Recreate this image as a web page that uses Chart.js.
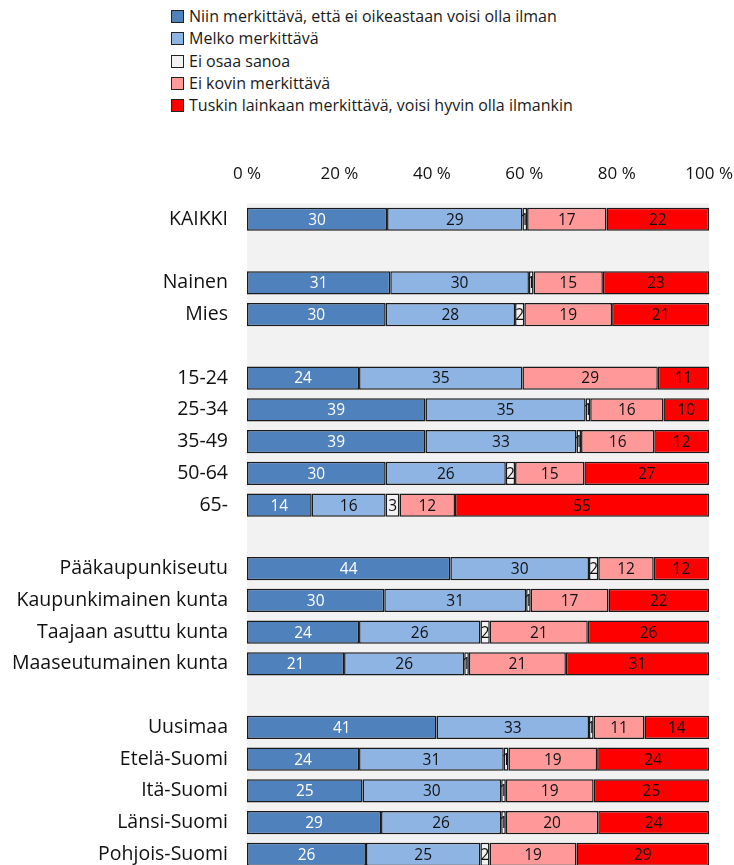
<!DOCTYPE html>
<html>
<head>
<meta charset="utf-8">
<script src="https://cdn.jsdelivr.net/npm/chart.js"></script>
<style>
  html, body { margin: 0; padding: 0; background: #fff; overflow: hidden; }
  #wrap { position: relative; width: 734px; height: 865px; overflow: hidden; }
  #legend { position: absolute; left: 171px; top: 5px; font: 16px "Open Sans", sans-serif; color: #1a1a1a; }
  #legend .item { height: 22.3px; line-height: 22.3px; white-space: nowrap; }
  #legend .box { display: inline-block; width: 11px; height: 11px; border: 1px solid #222;
                 vertical-align: -1px; margin-right: 5px; }
  canvas { position: absolute; left: 0; top: 0; }
</style>
</head>
<body>
<div id="wrap">
  <div id="legend"></div>
  <!-- canvas runs past the window so the tick padding Chart.js reserves falls outside -->
  <canvas id="chart" width="752" height="901"></canvas>
</div>
<script>
// rows of the chart; empty strings leave a gap between groups
const categories = [
  "KAIKKI", "",
  "Nainen", "Mies", "",
  "15-24", "25-34", "35-49", "50-64", "65-", "",
  "Pääkaupunkiseutu", "Kaupunkimainen kunta", "Taajaan asuttu kunta", "Maaseutumainen kunta", "",
  "Uusimaa", "Etelä-Suomi", "Itä-Suomi", "Länsi-Suomi", "Pohjois-Suomi"
];

const seriesNames = [
  "Niin merkittävä, että ei oikeastaan voisi olla ilman",
  "Melko merkittävä",
  "Ei osaa sanoa",
  "Ei kovin merkittävä",
  "Tuskin lainkaan merkittävä, voisi hyvin olla ilmankin"
];

const seriesColors = ["#4F81BD", "#8EB4E3", "#F2F2F2", "#FF9999", "#FF0000"];

// percentages per series, null for gap rows
const niinMerkittava = [30, null, 31, 30, null, 24, 39, 39, 30, 14, null, 44, 30, 24, 21, null, 41, 24, 25, 29, 26];
const melkoMerkittava = [29, null, 30, 28, null, 35, 35, 33, 26, 16, null, 30, 31, 26, 26, null, 33, 31, 30, 26, 25];
const eiOsaaSanoa = [1, null, 1, 2, null, 0, 1, 1, 2, 3, null, 2, 1, 2, 1, null, 1, 1, 1, 1, 2];
const eiKovinMerkittava = [17, null, 15, 19, null, 29, 16, 16, 15, 12, null, 12, 17, 21, 21, null, 11, 19, 19, 20, 19];
const tuskinLainkaan = [22, null, 23, 21, null, 11, 10, 12, 27, 55, null, 12, 22, 26, 31, null, 14, 24, 25, 24, 29];

const xTicks = [0, 20, 40, 60, 80, 100];

const series = [niinMerkittava, melkoMerkittava, eiOsaaSanoa, eiKovinMerkittava, tuskinLainkaan];

// 100 % stacked: each row is scaled by its own total
const rowTotals = categories.map((_, i) =>
  series.reduce((s, arr) => s + (arr[i] || 0), 0));

const datasets = series.map((arr, k) => ({
  label: seriesNames[k],
  raw: arr,
  data: arr.map((v, i) => v == null ? null : v / rowTotals[i] * 100),
  backgroundColor: seriesColors[k],
  borderColor: "#1a1a1a",
  borderWidth: 1.5,
  borderSkipped: false,
  categoryPercentage: 1,
  barPercentage: 0.73
}));

// legend list above the chart
const legendEl = document.getElementById("legend");
seriesNames.forEach((name, k) => {
  const row = document.createElement("div");
  row.className = "item";
  const box = document.createElement("span");
  box.className = "box";
  box.style.background = seriesColors[k];
  row.appendChild(box);
  row.appendChild(document.createTextNode(name));
  legendEl.appendChild(row);
});

const plotBackground = {
  id: "plotBackground",
  beforeDraw(chart) {
    const { ctx, chartArea: a } = chart;
    ctx.save();
    ctx.fillStyle = "#F2F2F2";
    ctx.fillRect(a.left, a.top, a.right - a.left, a.bottom - a.top);
    ctx.restore();
  }
};

const valueLabels = {
  id: "valueLabels",
  afterDatasetsDraw(chart) {
    const ctx = chart.ctx;
    ctx.save();
    ctx.font = "15.5px 'Open Sans', sans-serif";
    ctx.textAlign = "center";
    ctx.textBaseline = "middle";
    chart.data.datasets.forEach((ds, k) => {
      const meta = chart.getDatasetMeta(k);
      meta.data.forEach((bar, i) => {
        const v = ds.raw[i];
        if (v == null || v === 0) return;
        ctx.fillStyle = k === 0 ? "#ffffff" : "#111111";
        ctx.fillText(String(v), (bar.x + bar.base) / 2, bar.y + 1);
      });
    });
    ctx.restore();
  }
};

new Chart(document.getElementById("chart"), {
  type: "bar",
  data: { labels: categories, datasets: datasets },
  options: {
    indexAxis: "y",
    responsive: false,
    animation: false,
    layout: { padding: { top: 145, right: 8, left: 0, bottom: 0 } },
    plugins: { legend: { display: false }, tooltip: { enabled: false } },
    scales: {
      x: {
        position: "top",
        stacked: true,
        min: 0,
        max: 100,
        afterBuildTicks(scale) { scale.ticks = xTicks.map(v => ({ value: v })); },
        grid: { display: false, drawTicks: false },
        border: { display: false },
        ticks: {
          padding: 19,
          color: "#111",
          font: { family: "Open Sans", size: 17 },
          callback: v => v + " %"
        }
      },
      y: {
        stacked: true,
        grid: { display: false, drawTicks: false },
        border: { display: false },
        afterFit(scale) { scale.width = 247; },
        ticks: {
          padding: 19,
          color: "#111",
          autoSkip: false,
          font: { family: "Open Sans", size: 19.5 }
        }
      }
    }
  },
  plugins: [plotBackground, valueLabels]
});
</script>
</body>
</html>
